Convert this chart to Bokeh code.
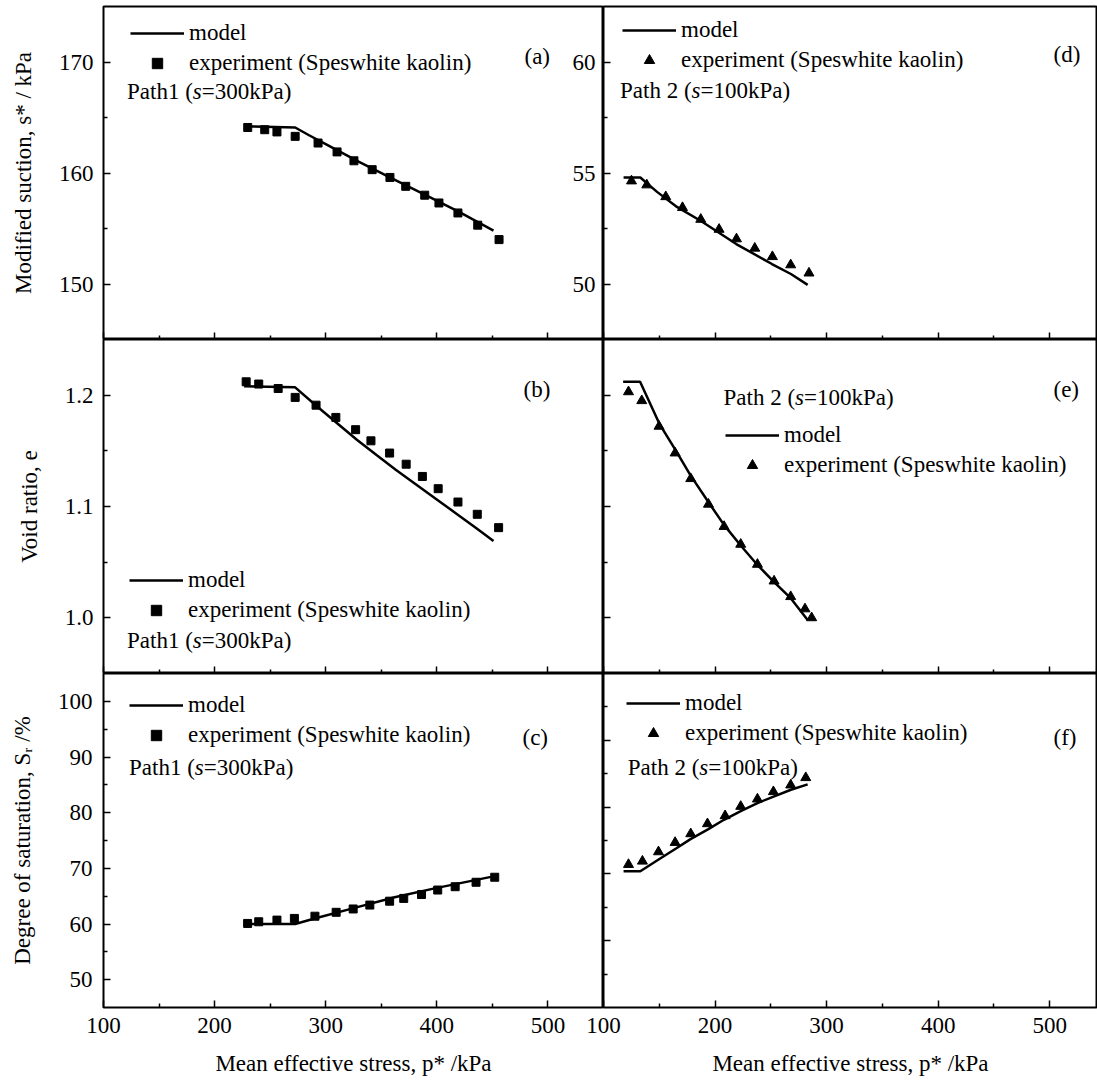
from bokeh.plotting import figure
from bokeh.models import Range1d, FixedTicker, Legend, LegendItem, Label, PrintfTickFormatter
from bokeh.layouts import column, row
from bokeh.embed import file_html
from bokeh.resources import INLINE

FONT = "Liberation Serif"
FS = "23px"

# ---------------- data ----------------
x_major = [100, 200, 300, 400, 500]
x_minor = [150, 250, 350, 450]

# (a) Path 1, modified suction
a_exp_p = [229.8, 245.1, 256.1, 272.5, 293.1, 310.2, 325.4, 341.8, 357.8, 372.0, 389.1, 401.9, 419.0, 436.8, 456.0]
a_exp_s = [164.1, 163.9, 163.7, 163.3, 162.7, 161.9, 161.1, 160.3, 159.6, 158.8, 158.0, 157.3, 156.4, 155.3, 154.0]
a_mod_p = [228.6, 272.5, 285.0, 300.0, 330.0, 360.0, 390.0, 420.0, 451.0]
a_mod_s = [164.2, 164.1, 163.4, 162.6, 161.0, 159.5, 158.0, 156.5, 154.8]

# (b) Path 1, void ratio
b_exp_p = [228.4, 239.7, 257.2, 272.5, 291.3, 309.1, 326.9, 340.7, 357.5, 372.4, 387.0, 401.2, 419.0, 436.4, 455.6]
b_exp_e = [1.212, 1.210, 1.206, 1.198, 1.191, 1.180, 1.169, 1.159, 1.148, 1.138, 1.127, 1.116, 1.104, 1.093, 1.081]
b_mod_p = [226.5, 272.5, 292.0, 310.0, 328.0, 346.0, 363.0, 381.0, 399.0, 417.0, 435.0, 451.0]
b_mod_e = [1.208, 1.207, 1.190, 1.175, 1.160, 1.146, 1.133, 1.120, 1.107, 1.094, 1.081, 1.069]

# (c) Path 1, degree of saturation
c_exp_p = [229.7, 239.7, 256.1, 271.8, 290.3, 309.4, 324.7, 339.7, 357.5, 370.2, 386.2, 400.8, 416.5, 435.3, 452.1]
c_exp_sr = [60.1, 60.4, 60.7, 61.0, 61.4, 62.1, 62.7, 63.4, 64.1, 64.6, 65.3, 66.1, 66.7, 67.5, 68.4]
c_mod_p = [226.5, 272.5, 290.0, 326.0, 362.0, 398.0, 430.0, 452.0]
c_mod_sr = [60.0, 60.0, 61.0, 62.9, 64.8, 66.4, 67.7, 68.6]

# (d) Path 2, modified suction
d_exp_p = [125.1, 138.8, 155.8, 170.8, 187.2, 203.6, 219.2, 235.6, 251.4, 267.8, 284.2]
d_exp_s = [54.64, 54.46, 53.93, 53.44, 52.91, 52.46, 52.03, 51.61, 51.23, 50.86, 50.49]
d_mod_p = [118.0, 133.0, 148.0, 165.0, 187.0, 219.0, 251.0, 268.0, 283.0]
d_mod_s = [54.80, 54.80, 54.15, 53.50, 52.85, 51.80, 50.90, 50.45, 49.96]

# (e) Path 2, void ratio
e_exp_p = [122.4, 134.3, 149.8, 164.2, 178.2, 194.1, 208.1, 223.0, 238.0, 252.9, 267.8, 280.6, 286.6]
e_exp_e = [1.203, 1.195, 1.172, 1.148, 1.125, 1.102, 1.082, 1.066, 1.048, 1.033, 1.019, 1.008, 1.000]
e_mod_p = [117.6, 132.8, 150.0, 165.0, 178.0, 194.0, 208.0, 223.0, 238.0, 253.0, 268.0, 283.0]
e_mod_e = [1.212, 1.212, 1.1745, 1.150, 1.128, 1.104, 1.0835, 1.065, 1.0475, 1.032, 1.0174, 0.998]

# (f) Path 2, degree of saturation
f_exp_p = [122.4, 134.9, 149.3, 164.2, 178.2, 193.2, 209.0, 223.0, 238.0, 252.3, 267.8, 281.3]
f_exp_sr = [71.4, 71.9, 73.3, 74.7, 76.0, 77.5, 78.7, 80.1, 81.2, 82.3, 83.3, 84.4]
f_mod_p = [118.0, 133.0, 148.0, 165.0, 178.0, 194.0, 208.0, 223.0, 238.0, 253.0, 268.0, 283.0]
f_mod_sr = [70.4, 70.4, 72.0, 73.8, 75.2, 76.7, 78.1, 79.4, 80.6, 81.6, 82.6, 83.4]

# ---------------- layout constants ----------------
LEFT_B = 103         # left border of left column
OVER = 40            # overlap of right column onto left column
FW_L, FW_R = 500, 494
FH = [333, 334, 334]
TOP_B = 6
BOT_B = 79
X_END_L = 550
X_END_R = 100 + FW_R / 1.1156

# Times-compatible advance widths (em) for the few strings written in runs
ADV = {"P": .556, "a": .444, "t": .278, "h": .5, "1": .5, "2": .5, " ": .25, "(": .333}


def width_of(s, px=23.0):
    return sum(ADV[c] for c in s) * px


def make_fig(x_end, y_rng, frame_w, frame_h, left, top, bottom, margin, transparent):
    p = figure(width=left + frame_w, height=top + frame_h + bottom,
               x_range=Range1d(100, x_end), y_range=Range1d(*y_rng),
               output_backend="svg", toolbar_location=None, tools="",
               min_border_left=left, min_border_right=0,
               min_border_top=top, min_border_bottom=bottom)
    if margin is not None:
        p.margin = margin
    p.grid.visible = False
    p.background_fill_color = "white"
    p.border_fill_color = None if transparent else "white"
    p.outline_line_color = "black"
    p.outline_line_width = 2
    p.outline_line_alpha = 1.0
    return p


def style_axis(ax, ticks, minor, show_labels, title, standoff=10, title_standoff=20, fmt=None):
    ax.ticker = FixedTicker(ticks=ticks, minor_ticks=minor)
    if fmt is not None:
        ax.formatter = PrintfTickFormatter(format=fmt)
    ax.axis_line_color = None
    ax.major_tick_in = 7
    ax.major_tick_out = 0
    ax.minor_tick_in = 4
    ax.minor_tick_out = 0
    ax.major_tick_line_color = "black"
    ax.minor_tick_line_color = "black"
    ax.major_tick_line_width = 1.5
    ax.minor_tick_line_width = 1.5
    ax.major_label_text_font = FONT
    ax.major_label_text_font_size = FS
    if show_labels:
        ax.major_label_text_color = "black"
        ax.major_label_standoff = standoff
    else:
        ax.major_label_text_color = None
        ax.major_label_standoff = 0
    if title:
        ax.axis_label = title
        ax.axis_label_text_font = FONT
        ax.axis_label_text_font_size = FS
        ax.axis_label_text_font_style = "normal"
        ax.axis_label_text_color = "black"
        ax.axis_label_standoff = title_standoff


def add_legend(p, line_r, pts_r, x, y_first, frame_h):
    item_h, spacing = 26, 4
    leg_h = 2 * item_h + spacing
    top = y_first - item_h / 2
    leg = Legend(items=[LegendItem(label="model", renderers=[line_r]),
                        LegendItem(label="experiment (Speswhite kaolin)", renderers=[pts_r])],
                 location=(x, frame_h - top - leg_h),
                 label_text_font=FONT, label_text_font_size=FS, label_text_color="black",
                 glyph_width=54, glyph_height=item_h, label_height=item_h,
                 label_standoff=5, spacing=spacing, padding=0, margin=0,
                 background_fill_alpha=0, border_line_alpha=0)
    p.add_layout(leg)


def add_text(p, x, y_from_top, frame_h, s, italic=False):
    p.add_layout(Label(x=x, y=frame_h - y_from_top, x_units="screen", y_units="screen",
                       text=s, text_font=FONT, text_font_size=FS, text_color="black",
                       text_baseline="middle", text_align="left",
                       text_font_style="italic" if italic else "normal"))


def add_path(p, x, y_from_top, frame_h, head, tail):
    add_text(p, x, y_from_top, frame_h, head)
    x2 = x + width_of(head)
    add_text(p, x2, y_from_top, frame_h, "s", italic=True)
    add_text(p, x2 + 0.389 * 23, y_from_top, frame_h, tail)


def panel(x_end, y_rng, ymaj, ymin, frame_w, frame_h, left, top, bottom, margin, transparent,
          xp_e, yv_e, xp_m, yv_m, marker, msize, leg_x, leg_y, path_xy, path_head, path_tail,
          tag, tag_xy, ylabels, ytitle, xlabels, xtitle, ystandoff=10, yfmt=None):
    p = make_fig(x_end, y_rng, frame_w, frame_h, left, top, bottom, margin, transparent)
    style_axis(p.xaxis[0], x_major, x_minor, xlabels, xtitle, standoff=10, title_standoff=15)
    style_axis(p.yaxis[0], ymaj, ymin, ylabels, ytitle, standoff=ystandoff, title_standoff=20,
               fmt=yfmt)
    lr = p.line(xp_m, yv_m, line_width=2.5, line_color="black")
    pr = p.scatter(xp_e, yv_e, marker=marker, size=msize, fill_color="black", line_color="black")
    add_legend(p, lr, pr, leg_x, leg_y, frame_h)
    add_path(p, path_xy[0], path_xy[1], frame_h, path_head, path_tail)
    add_text(p, tag_xy[0], tag_xy[1], frame_h, tag)
    return p


XT = "Mean effective stress, p* /kPa"

pa = panel(X_END_L, (145, 175), [150, 160, 170], [155, 165], FW_L, FH[0], LEFT_B, TOP_B, 0,
           None, False, a_exp_p, a_exp_s, a_mod_p, a_mod_s, "square", 8,
           27, 27, (23.5, 85), "Path1 (", "=300kPa)", "(a)", (421, 50),
           True, "Modified suction, s* / kPa", False, None)
pd_ = panel(X_END_R, (47.5, 62.5), [50, 55, 60], [52.5, 57.5], FW_R, FH[0], OVER, TOP_B, 0,
            (0, 0, 0, -OVER), True, d_exp_p, d_exp_s, d_mod_p, d_mod_s, "triangle", 10,
            19, 23.5, (16.5, 83.5), "Path 2 (", "=100kPa)", "(d)", (450, 48),
            True, None, False, None, ystandoff=8)

pb = panel(X_END_L, (0.95, 1.25), [1.0, 1.1, 1.2], [1.05, 1.15], FW_L, FH[1], LEFT_B, 0, 0,
           None, False, b_exp_p, b_exp_e, b_mod_p, b_mod_e, "square", 8,
           26, 241, (23.5, 301), "Path1 (", "=300kPa)", "(b)", (420, 50),
           True, "Void ratio, e", False, None, yfmt="%.1f")
pe = panel(X_END_R, (0.95, 1.25), [1.0, 1.1, 1.2], [1.05, 1.15], FW_R, FH[1], OVER, 0, 0,
           (0, 0, 0, -OVER), True, e_exp_p, e_exp_e, e_mod_p, e_mod_e, "triangle", 10,
           122, 96, (120, 57.5), "Path 2 (", "=100kPa)", "(e)", (450, 49.5),
           False, None, False, None)

pc = panel(X_END_L, (45, 105), [50, 60, 70, 80, 90, 100], [55, 65, 75, 85, 95], FW_L, FH[2], LEFT_B, 0, BOT_B,
           None, False, c_exp_p, c_exp_sr, c_mod_p, c_mod_sr, "square", 8,
           26, 32, (25.5, 93.7), "Path1 (", "=300kPa)", "(c)", (419, 63.7),
           True, "Degree of saturation, S\u1d63 /%", True, XT, ystandoff=11)
pf = panel(X_END_R, (50, 100), [60, 70, 80, 90], [55, 65, 75, 85, 95], FW_R, FH[2], OVER, 0, BOT_B,
           (0, 0, 0, -OVER), True, f_exp_p, f_exp_sr, f_mod_p, f_mod_sr, "triangle", 10,
           23, 29.5, (24.3, 93.7), "Path 2 (", "=100kPa)", "(f)", (450, 63.7),
           False, None, True, XT)

layout = column(row(pa, pd_), row(pb, pe), row(pc, pf))

open("out.html", "w").write(file_html(layout, INLINE))
